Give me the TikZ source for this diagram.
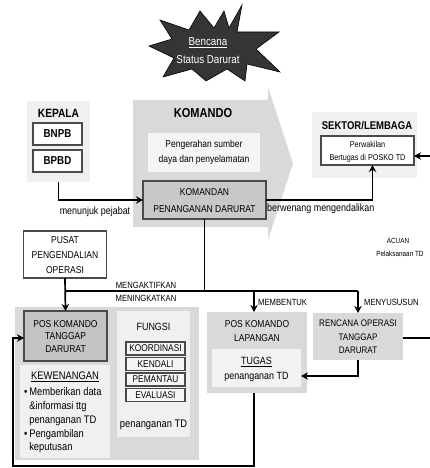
\documentclass[tikz,border=0pt]{standalone}
\usepackage{fontspec}
\setmainfont{Liberation Sans}[FakeStretch=0.85]
\usetikzlibrary{arrows.meta,calc}
\definecolor{pnl}{HTML}{F0F0F0}
\definecolor{gry}{HTML}{D9D9D9}
\definecolor{dgry}{HTML}{C4C4C4}
\definecolor{bord}{HTML}{4A4A4A}
\definecolor{stardark}{HTML}{353535}
\tikzset{
  box/.style={rectangle, inner sep=0pt, outer sep=0pt},
  panel/.style={box, fill=pnl},
  gpanel/.style={box, fill=gry},
  frame/.style={box, draw=bord, line width=1.1pt},
  conn/.style={line width=1.7pt, -{Stealth[length=7pt,width=7.5pt]}},
  plain/.style={line width=1.7pt},
  ttl/.style={inner sep=0pt, font=\fontsize{12}{14}\selectfont\bfseries},
  txt/.style={inner sep=0pt, align=center, font=\fontsize{10.5}{13}\selectfont},
  sm/.style={inner sep=0pt, align=center, font=\fontsize{8.5}{10}\selectfont},
}
\begin{document}
\begin{tikzpicture}[x=1pt,y=-1pt]
\useasboundingbox (0,0) rectangle (430,468);

% star
\filldraw[fill=stardark, draw=black, line width=0.6pt]
 (242,5) -- (237,32) -- (279,32) -- (256,49) -- (280,72) -- (247,64) -- (245,81)
 -- (227,69) -- (206,81) -- (192,69) -- (163,77) -- (174,58) -- (149,46)
 -- (172,39) -- (160,20) -- (189,30) -- (200,11) -- (214,28) -- (224,11)
 -- (229,28) -- cycle;
\node[txt, text=white, font=\fontsize{11.5}{17.5}\selectfont] (star) at (208,50.5) {\underline{Bencana}\\Status Darurat};

% KEPALA
\node[panel, minimum width=63, minimum height=81] (kepala) at (58.5,141.5) {};
\node[ttl] (kepT) at (58.5,113) {KEPALA};
\node[frame, fill=white, minimum width=49, minimum height=22, font=\fontsize{11.5}{13}\selectfont\bfseries] (bnpb) at (57.5,134) {BNPB};
\node[frame, fill=white, minimum width=49, minimum height=22, font=\fontsize{11.5}{13}\selectfont\bfseries] (bpbd) at (57.5,161) {BPBD};

% KOMANDO arrow
\fill[gry] (133,100) -- (268,100) -- (268,87) -- (293,163.5) -- (268,240) -- (268,227) -- (133,227) -- cycle;
\node[ttl, font=\fontsize{13}{15}\selectfont\bfseries] (komT) at (203,113) {KOMANDO};
\node[box, fill=white!96!black, minimum width=112, minimum height=39] (peng) at (204,152.5) {};
\node[txt, font=\fontsize{10}{15}\selectfont] (pengT) at (204,152.5) {Pengerahan sumber\\daya dan penyelamatan};
\node[frame, fill=gry!92!black, minimum width=123, minimum height=38] (komandan) at (204.5,200) {};
\node[txt, font=\fontsize{10}{17}\selectfont] (komandanT) at (204.5,200.5) {KOMANDAN\\PENANGANAN DARURAT};

% SEKTOR / LEMBAGA
\node[panel, minimum width=105, minimum height=66] (sektor) at (364.5,145) {};
\node[ttl, font=\fontsize{11.2}{13}\selectfont\bfseries] (sekT) at (367,126) {SEKTOR/LEMBAGA};
\node[frame, fill=white, minimum width=93, minimum height=29] (sekin) at (367.5,150.5) {};
\node[sm, font=\fontsize{8.5}{13}\selectfont] (sekinT) at (367.5,151.5) {Perwakilan\\Bertugas di POSKO TD};

\coordinate (edgeA) at (430,156);
\coordinate (edgeB) at (430,338);

\draw[conn] (kepala.south) |- (komandan.west);
\node[txt] (menunjuk) at (95,212) {menunjuk pejabat};
\draw[conn] (komandan.east) -| ([xshift=5pt]sekin.south);
\node[txt, anchor=west] (berwenang) at (267,209) {berwenang mengendalikan};
\draw[conn] (edgeA) -- (sekin.east |- edgeA);

\node[sm, font=\fontsize{7.5}{9}\selectfont] (acuan) at (398,241) {ACUAN};
\node[sm, font=\fontsize{7.5}{9}\selectfont] (pelak) at (400,254) {Pelaksanaan TD};

% PUSAT
\node[frame, fill=white, minimum width=83, minimum height=47] (pusat) at (65,254.5) {};
\node[txt, font=\fontsize{10}{15}\selectfont] (pusatT) at (65,255.5) {PUSAT\\PENGENDALIAN\\OPERASI};

% left big panel
\node[gpanel, minimum width=184, minimum height=153] (leftp) at (107,383.5) {};
\node[frame, fill=dgry, minimum width=83, minimum height=50] (pkt) at (65.5,336) {};
\node[txt, font=\fontsize{10}{12.5}\selectfont] (pktT) at (65.5,336.5) {POS KOMANDO\\TANGGAP\\DARURAT};
\node[panel, minimum width=90, minimum height=93] (kew) at (65,411.5) {};
\node[txt, font=\fontsize{11}{13}\selectfont] (kewT) at (65,377) {\underline{KEWENANGAN}};
\node[inner sep=0pt, anchor=west, font=\fontsize{11}{13.75}\selectfont] (kewL) at (24,420.5)
 {\begin{tabular}{@{}l@{\,}l@{}}\textbullet & Memberikan data\\ & \&informasi ttg\\ & penanganan TD\\ \textbullet & Pengambilan\\ & keputusan\end{tabular}};

\node[panel, minimum width=73, minimum height=126] (fungsi) at (153.5,374) {};
\node[txt, font=\fontsize{10.5}{12}\selectfont] (funT) at (153.5,327) {FUNGSI};
\node[frame, fill=white!96!black, minimum width=59, minimum height=13, font=\fontsize{9.8}{11}\selectfont] (koord) at (155.5,348.5) {KOORDINASI};
\node[frame, fill=white!96!black, minimum width=59, minimum height=13, font=\fontsize{9.8}{11}\selectfont] (kendali) at (155.5,364) {KENDALI};
\node[frame, fill=white!96!black, minimum width=59, minimum height=13, font=\fontsize{9.8}{11}\selectfont] (pemantau) at (155.5,379.5) {PEMANTAU};
\node[frame, fill=white!96!black, minimum width=59, minimum height=13, font=\fontsize{9.8}{11}\selectfont] (evaluasi) at (155.5,395) {EVALUASI};
\node[txt, font=\fontsize{11}{13}\selectfont] (funP) at (153.5,425) {penanganan TD};

% POS KOMANDO LAPANGAN
\node[gpanel, minimum width=100, minimum height=81] (lap) at (257,352.5) {};
\node[txt, font=\fontsize{10}{14}\selectfont] (lapT) at (257,331) {POS KOMANDO\\LAPANGAN};
\node[box, fill=white!95!black, minimum width=89, minimum height=38] (tugas) at (256.5,368) {};
\node[txt, font=\fontsize{10.5}{15}\selectfont] (tugasT) at (256.5,369.5) {\underline{TUGAS}\\penanganan TD};

% RENCANA
\node[gpanel, minimum width=90, minimum height=47] (renc) at (358,336.5) {};
\node[txt, font=\fontsize{9.5}{13.5}\selectfont] (rencT) at (358,337) {RENCANA OPERASI\\TANGGAP\\DARURAT};

% trunk
\coordinate (j) at (204.5,291);
\draw[plain] (komandan.south) -- (j);
\draw[plain] (pusat.south |- j) -- (renc.north |- j);
\draw[conn] (pusat.south) -- (pkt.north);
\draw[conn] ([xshift=-3pt]lap.north |- j) -- ([xshift=-3pt]lap.north);
\draw[conn] (renc.north |- j) -- (renc.north);
\node[txt, font=\fontsize{9}{11}\selectfont] (mengakt) at (146,285) {MENGAKTIFKAN};
\node[txt, font=\fontsize{9}{11}\selectfont] (mening) at (146,298.5) {MENINGKATKAN};
\node[txt, font=\fontsize{9}{11}\selectfont, anchor=west] (membentuk) at (258,302) {MEMBENTUK};
\node[txt, font=\fontsize{9}{11}\selectfont, anchor=west] (menyusun) at (364,302) {MENYUSUSUN};

\draw[conn] (renc.south) |- ([yshift=-8pt]tugas.east);
\draw[plain] (renc.east |- edgeB) -- (edgeB);

\coordinate (loopc) at (13,466);
\draw[conn] ([xshift=-3pt]lap.south) |- (loopc) |- ([yshift=-2pt]pkt.west);
\end{tikzpicture}
\end{document}
